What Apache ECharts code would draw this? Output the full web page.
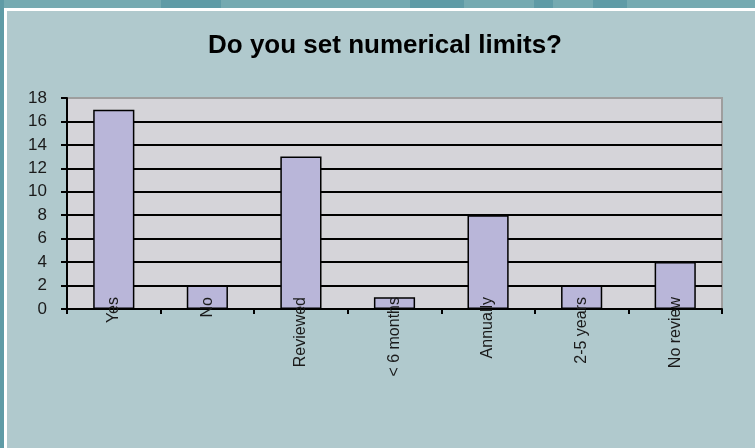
<!DOCTYPE html>
<html>
<head>
<meta charset="utf-8">
<script src="https://cdn.jsdelivr.net/npm/echarts@6/dist/echarts.min.js"></script>
<style>
  html, body { margin: 0; padding: 0; background: #b0c9cd; }
  #chart { width: 755px; height: 448px; }
</style>
</head>
<body>
<div id="chart"></div>
<script>
const categories = ["Yes", "No", "Reviewed", "< 6 months", "Annually", "2-5 years", "No review"];
const counts = [17, 2, 13, 1, 8, 2, 4];
const yTicks = { min: 0, max: 18, interval: 2 };

const BG = "#b0c9cd";
const STRIP = "#75aab1";
const STRIP_DARK = "#5f9ba6";
const PLOT_BG = "#d5d4d9";
const BAR = "#b9b6d9";
const FONT = "Liberation Sans, Arial, sans-serif";

// darker blocks in the top banner [x, width]
const bannerBlocks = [[161, 60], [410, 54], [534, 19], [593, 34]];

const chart = echarts.init(document.getElementById("chart"), null, { renderer: "canvas" });

const graphics = [
  { type: "rect", shape: { x: 0, y: 0, width: 755, height: 8 }, style: { fill: STRIP }, silent: true, z: -10 },
  ...bannerBlocks.map(([x, w]) => ({
    type: "rect", shape: { x, y: 0, width: w, height: 8 }, style: { fill: STRIP_DARK }, silent: true, z: -9,
  })),
  { type: "rect", shape: { x: 0, y: 0, width: 4, height: 448 }, style: { fill: STRIP_DARK }, silent: true, z: -8 },
  { type: "rect", shape: { x: 4, y: 8, width: 751, height: 3 }, style: { fill: "#ffffff" }, silent: true, z: -8 },
  { type: "rect", shape: { x: 4, y: 8, width: 3, height: 440 }, style: { fill: "#ffffff" }, silent: true, z: -8 },
];

chart.setOption({
  animation: false,
  backgroundColor: BG,
  textStyle: { fontFamily: FONT },
  graphic: graphics,
  title: {
    text: "Do you set numerical limits?",
    left: 203,
    top: 28,
    textStyle: { fontFamily: FONT, fontSize: 26, fontWeight: "bold", color: "#000" },
  },
  grid: {
    left: 67, top: 98, width: 655, height: 211,
    show: true,
    backgroundColor: PLOT_BG,
    borderColor: "#9e9e9e",
    borderWidth: 2,
  },
  xAxis: {
    type: "category",
    data: categories,
    boundaryGap: true,
    z: 10,
    axisLine: { lineStyle: { color: "#000", width: 2 } },
    axisTick: { show: true, inside: false, length: 5, lineStyle: { color: "#000", width: 2 } },
    axisLabel: {
      rotate: 90,
      margin: -12,
      interval: 0,
      fontSize: 16,
      fontFamily: FONT,
      color: "#1a1a1a",
      padding: [0, 0, 6, 0],
    },
    splitLine: { show: false },
  },
  yAxis: {
    type: "value",
    min: yTicks.min,
    max: yTicks.max,
    interval: yTicks.interval,
    axisLine: { show: true, lineStyle: { color: "#000", width: 2 } },
    axisTick: { show: true, inside: false, length: 6, lineStyle: { color: "#000", width: 2 } },
    axisLabel: { margin: 20, fontSize: 17, fontFamily: FONT, color: "#1a1a1a" },
    splitLine: { show: true, showMaxLine: false, lineStyle: { color: "#000", width: 2 } },
  },
  series: [
    {
      type: "bar",
      data: counts,
      barWidth: "44%",
      itemStyle: { color: BAR, borderColor: "#000", borderWidth: 1.5 },
      z: 3,
    },
  ],
});
</script>
</body>
</html>
